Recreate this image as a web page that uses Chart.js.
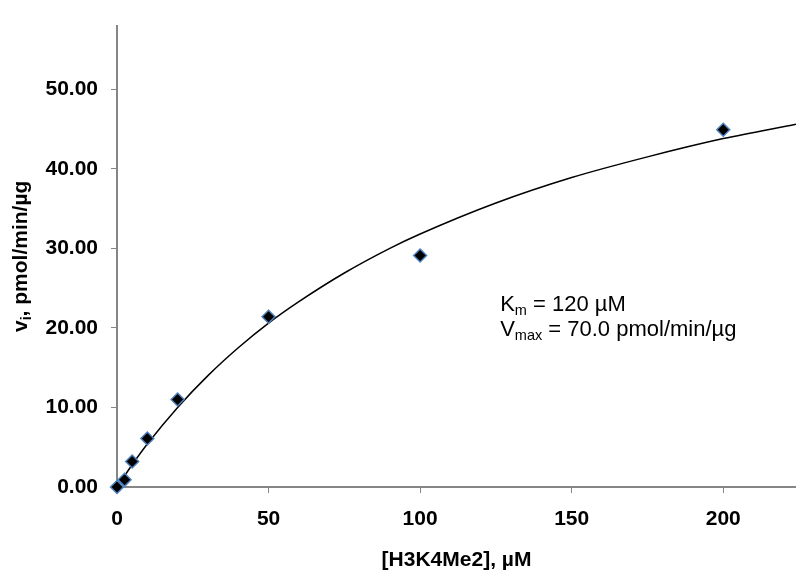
<!DOCTYPE html>
<html lang="en">
<head>
  <meta charset="UTF-8" /><meta name="viewport" content="width=device-width,initial-scale=1" />
  <title>H3K4Me2 demethylation kinetics</title>
  <script src="https://cdn.jsdelivr.net/npm/chart.js"></script>
  <style>
    html,body{margin:0;padding:0;background:#fff;}
    #wrap{width:796px;height:570px;position:relative;}
  </style>
</head>
<body>
  <div id="wrap"><canvas id="chart"></canvas></div>
  <script>
    // measured initial rates
    const substrate = [0, 2.5, 5, 10, 20, 50, 100, 200];          // [H3K4Me2], uM
    const velocity  = [0.0, 0.9, 3.2, 6.1, 11.0, 21.4, 29.1, 44.9]; // pmol/min/ug

    // Michaelis-Menten fit line (Km 120 uM, Vmax 70.0)
    const fitX = [0, 5, 10, 20, 30, 40, 50, 60, 75, 90, 100, 125, 150, 175, 200, 224];
    const fitY = [0, 2.8, 5.4, 10.0, 14.0, 17.5, 20.6, 23.3, 26.9, 30.0, 31.8, 35.7, 38.9, 41.5, 43.8, 45.6];

    const xTicks = [0, 50, 100, 150, 200];
    const yTicks = [0, 10, 20, 30, 40, 50];

    const FONT = '"Liberation Sans", Arial, sans-serif';
    const AXIS = '#868686';

    // draws a row of text pieces, some of them as subscripts
    function drawRuns(ctx, x, y, runs, weight) {
      let cx = x;
      for (const r of runs) {
        ctx.font = weight + ' ' + r.size + 'px ' + FONT;
        ctx.fillText(r.text, cx, y + (r.dy || 0));
        cx += ctx.measureText(r.text).width;
      }
    }
    function runsWidth(ctx, runs, weight) {
      let w = 0;
      for (const r of runs) {
        ctx.font = weight + ' ' + r.size + 'px ' + FONT;
        w += ctx.measureText(r.text).width;
      }
      return w;
    }

    const textPlugin = {
      id: 'kineticText',
      afterDraw(chart) {
        const {ctx, chartArea: a, scales: {x, y}} = chart;
        ctx.save();
        ctx.fillStyle = '#000';
        ctx.textBaseline = 'alphabetic';
        ctx.textAlign = 'left';

        // x axis title
        const xt = [{text: '[H3K4Me2], \u00b5M', size: 21}];
        const xw = runsWidth(ctx, xt, 'bold');
        drawRuns(ctx, (a.left + a.right) / 2 - xw / 2, 566, xt, 'bold');

        // y axis title, rotated
        const yt = [{text: 'v', size: 21}, {text: 'i', size: 14, dy: 4}, {text: ', pmol/min/\u00b5g', size: 21}];
        const yw = runsWidth(ctx, yt, 'bold');
        ctx.save();
        ctx.translate(27, (a.top + a.bottom) / 2);
        ctx.rotate(-Math.PI / 2);
        drawRuns(ctx, -yw / 2, 0, yt, 'bold');
        ctx.restore();

        // fit parameters
        const px = x.getPixelForValue(126.4);
        const py = y.getPixelForValue(22.1);
        drawRuns(ctx, px, py, [{text: 'K', size: 22}, {text: 'm', size: 14.5, dy: 4}, {text: ' = 120 \u00b5M', size: 22}], 'normal');
        drawRuns(ctx, px, py + 25, [{text: 'V', size: 22}, {text: 'max', size: 14.5, dy: 4}, {text: ' = 70.0 pmol/min/\u00b5g', size: 22}], 'normal');
        ctx.restore();
      }
    };

    const tickFont = {family: FONT, size: 21, weight: 'bold'};

    new Chart(document.getElementById('chart').getContext('2d'), {
      type: 'scatter',
      data: {
        datasets: [
          {
            label: 'data',
            data: substrate.map((s, i) => ({x: s, y: velocity[i]})),
            pointStyle: 'rectRot',
            pointRadius: 6.5,
            pointHoverRadius: 6.5,
            backgroundColor: '#000',
            borderColor: '#4f81bd',
            borderWidth: 1.5,
            showLine: false,
            clip: false
          },
          {
            label: 'fit',
            data: fitX.map((s, i) => ({x: s, y: fitY[i]})),
            showLine: true,
            borderColor: '#000',
            borderWidth: 1.5,
            pointRadius: 0,
            cubicInterpolationMode: 'monotone',
            fill: false
          }
        ]
      },
      options: {
        responsive: true,
        maintainAspectRatio: false,
        animation: false,
        events: [],
        layout: {autoPadding: false, padding: {top: 17, right: 0, left: 0, bottom: 0}},
        plugins: {legend: {display: false}, tooltip: {enabled: false}},
        scales: {
          x: {
            type: 'linear',
            min: 0, max: 224,
            afterFit(s) { s.height = 83; },
            afterBuildTicks(s) { s.ticks = xTicks.map(v => ({value: v})); },
            grid: {display: true, drawOnChartArea: false, drawTicks: true, tickLength: 6, color: AXIS, lineWidth: 1},
            border: {display: true, color: AXIS, width: 2},
            ticks: {font: tickFont, color: '#000', padding: 14, maxRotation: 0, callback: v => String(v)}
          },
          y: {
            type: 'linear',
            min: 0, max: 58,
            afterFit(s) { s.width = 117; },
            afterBuildTicks(s) { s.ticks = yTicks.map(v => ({value: v})); },
            grid: {display: true, drawOnChartArea: false, drawTicks: true, tickLength: 6, color: AXIS, lineWidth: 1},
            border: {display: true, color: AXIS, width: 2},
            ticks: {font: tickFont, color: '#000', padding: 13, callback: v => v.toFixed(2)}
          }
        }
      },
      plugins: [textPlugin]
    });
  </script>
</body>
</html>
